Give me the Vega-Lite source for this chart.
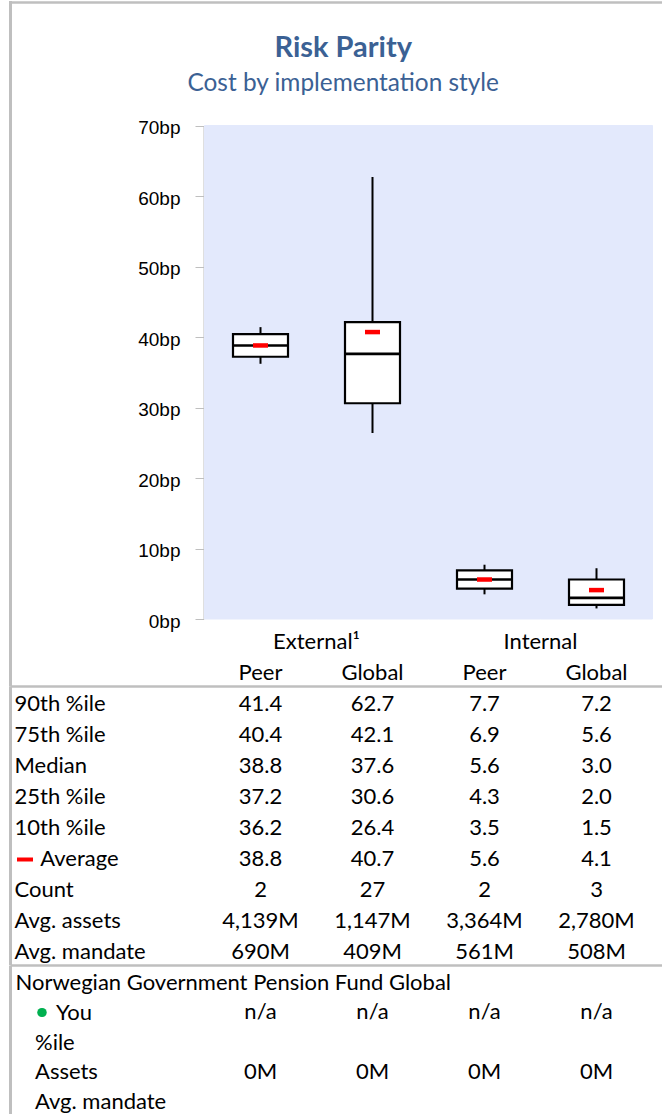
{
  "$schema": "https://vega.github.io/schema/vega-lite/v6.json",
  "background": "white",
  "padding": {"left": 5, "top": 2, "right": 0, "bottom": 0},
  "autosize": {"type": "pad"},
  "bounds": "flush",
  "spacing": 0,
  "resolve": {"scale": {"x": "independent", "y": "independent"}},
  "config": {"view": {"stroke": null}, "font": "Lato", "text": {"font": "Lato"}},
  "datasets": {
    "boxes": [
      {"col": "External Peer", "p10": 36.2, "p25": 37.2, "median": 38.8, "p75": 40.4, "p90": 41.4, "avg": 38.8},
      {"col": "External Global", "p10": 26.4, "p25": 30.6, "median": 37.6, "p75": 42.1, "p90": 62.7, "avg": 40.7},
      {"col": "Internal Peer", "p10": 3.5, "p25": 4.3, "median": 5.6, "p75": 6.9, "p90": 7.7, "avg": 5.6},
      {"col": "Internal Global", "p10": 1.5, "p25": 2.0, "median": 3.0, "p75": 5.6, "p90": 7.2, "avg": 4.1}
    ],
    "groups": [
      {"row": "group", "col": "External Peer", "label": "External¹"},
      {"row": "group", "col": "Internal Peer", "label": "Internal"}
    ],
    "subs": [
      {"row": "sub", "col": "External Peer", "label": "Peer"},
      {"row": "sub", "col": "External Global", "label": "Global"},
      {"row": "sub", "col": "Internal Peer", "label": "Peer"},
      {"row": "sub", "col": "Internal Global", "label": "Global"}
    ],
    "stats": [
      {"row": "90th %ile", "col": "External Peer", "value": "41.4"},
      {"row": "90th %ile", "col": "External Global", "value": "62.7"},
      {"row": "90th %ile", "col": "Internal Peer", "value": "7.7"},
      {"row": "90th %ile", "col": "Internal Global", "value": "7.2"},
      {"row": "75th %ile", "col": "External Peer", "value": "40.4"},
      {"row": "75th %ile", "col": "External Global", "value": "42.1"},
      {"row": "75th %ile", "col": "Internal Peer", "value": "6.9"},
      {"row": "75th %ile", "col": "Internal Global", "value": "5.6"},
      {"row": "Median", "col": "External Peer", "value": "38.8"},
      {"row": "Median", "col": "External Global", "value": "37.6"},
      {"row": "Median", "col": "Internal Peer", "value": "5.6"},
      {"row": "Median", "col": "Internal Global", "value": "3.0"},
      {"row": "25th %ile", "col": "External Peer", "value": "37.2"},
      {"row": "25th %ile", "col": "External Global", "value": "30.6"},
      {"row": "25th %ile", "col": "Internal Peer", "value": "4.3"},
      {"row": "25th %ile", "col": "Internal Global", "value": "2.0"},
      {"row": "10th %ile", "col": "External Peer", "value": "36.2"},
      {"row": "10th %ile", "col": "External Global", "value": "26.4"},
      {"row": "10th %ile", "col": "Internal Peer", "value": "3.5"},
      {"row": "10th %ile", "col": "Internal Global", "value": "1.5"},
      {"row": "Average", "col": "External Peer", "value": "38.8"},
      {"row": "Average", "col": "External Global", "value": "40.7"},
      {"row": "Average", "col": "Internal Peer", "value": "5.6"},
      {"row": "Average", "col": "Internal Global", "value": "4.1"},
      {"row": "Count", "col": "External Peer", "value": "2"},
      {"row": "Count", "col": "External Global", "value": "27"},
      {"row": "Count", "col": "Internal Peer", "value": "2"},
      {"row": "Count", "col": "Internal Global", "value": "3"},
      {"row": "Avg. assets", "col": "External Peer", "value": "4,139M"},
      {"row": "Avg. assets", "col": "External Global", "value": "1,147M"},
      {"row": "Avg. assets", "col": "Internal Peer", "value": "3,364M"},
      {"row": "Avg. assets", "col": "Internal Global", "value": "2,780M"},
      {"row": "Avg. mandate", "col": "External Peer", "value": "690M"},
      {"row": "Avg. mandate", "col": "External Global", "value": "409M"},
      {"row": "Avg. mandate", "col": "Internal Peer", "value": "561M"},
      {"row": "Avg. mandate", "col": "Internal Global", "value": "508M"}
    ],
    "fund": [
      {"row": "You", "col": "External Peer", "value": "n/a"},
      {"row": "You", "col": "External Global", "value": "n/a"},
      {"row": "You", "col": "Internal Peer", "value": "n/a"},
      {"row": "You", "col": "Internal Global", "value": "n/a"},
      {"row": "Assets", "col": "External Peer", "value": "0M"},
      {"row": "Assets", "col": "External Global", "value": "0M"},
      {"row": "Assets", "col": "Internal Peer", "value": "0M"},
      {"row": "Assets", "col": "Internal Global", "value": "0M"}
    ]
  },
  "vconcat": [
    {
      "width": 652.5,
      "height": 617,
      "title": {
        "text": "Risk Parity",
        "subtitle": "Cost by implementation style",
        "anchor": "middle",
        "frame": "group",
        "offset": -93,
        "dx": 7,
        "font": "Lato",
        "fontSize": 29,
        "fontWeight": "bold",
        "color": "#3B6194",
        "subtitleFont": "Lato",
        "subtitleFontSize": 24.4,
        "subtitleColor": "#3B6194",
        "subtitlePadding": 9
      },
      "data": {"name": "boxes"},
      "resolve": {"scale": {"y": "independent"}},
      "layer": [
        {
          "encoding": {
            "x": {
              "field": "col",
              "type": "nominal",
              "sort": null,
              "scale": {"type": "band", "domain": ["External Peer", "External Global", "Internal Peer", "Internal Global"], "paddingInner": 0, "paddingOuter": 0.91295, "align": 0.9511, "round": false},
              "axis": {"orient": "top", "labels": false, "ticks": false, "grid": false, "domainColor": "#BFBFBF", "domainWidth": 2.5, "title": null, "minExtent": 0}
            }
          },
          "layer": [
            {
              "mark": {"type": "bar", "color": "#E3E9FC", "stroke": "#E3E9FC", "strokeWidth": 1, "width": {"band": 1}},
              "encoding": {
                "y": {
                  "datum": 0,
                  "type": "quantitative",
                  "scale": {"domain": [0, 70], "range": [617, 123.5], "nice": false, "zero": true},
                  "axis": {
                    "orient": "left",
                    "offset": -193.5,
                    "values": [0, 10, 20, 30, 40, 50, 60, 70],
                    "labelExpr": "datum.value + 'bp'",
                    "labelFont": "Liberation Sans",
                    "labelFontSize": 19,
                    "labelColor": "#000000",
                    "labelPadding": 15,
                    "labelOffset": 2,
                    "labelFlush": false,
                    "labelBound": false,
                    "labelOverlap": false,
                    "tickColor": "#BFBFBF",
                    "tickSize": 8.5,
                    "domainColor": "#BFBFBF",
                    "domainWidth": 1,
                    "grid": false,
                    "title": null,
                    "minExtent": 0
                  }
                },
                "y2": {"datum": 70}
              }
            },
            {
              "mark": {"type": "rule", "color": "#000000", "strokeWidth": 2},
              "encoding": {"y": {"field": "p10", "type": "quantitative"}, "y2": {"field": "p90"}}
            },
            {
              "mark": {"type": "bar", "fill": "#FFFFFF", "stroke": "#000000", "strokeWidth": 2.2, "width": 55},
              "encoding": {"y": {"field": "p25", "type": "quantitative"}, "y2": {"field": "p75"}}
            },
            {
              "mark": {"type": "tick", "color": "#000000", "opacity": 1, "size": 56, "thickness": 2.6},
              "encoding": {"y": {"field": "median", "type": "quantitative"}}
            },
            {
              "mark": {"type": "tick", "color": "#FF0000", "opacity": 1, "size": 15, "thickness": 4.5},
              "encoding": {"y": {"field": "avg", "type": "quantitative"}}
            }
          ]
        },
        {
          "mark": {"type": "rule", "opacity": 0},
          "encoding": {
            "y": {
              "datum": 0,
              "type": "quantitative",
              "scale": {"domain": [0, 1]},
              "axis": {"orient": "left", "offset": 0, "labels": false, "ticks": false, "grid": false, "domainColor": "#BFBFBF", "domainWidth": 3, "domainCap": "square", "title": null, "minExtent": 0}
            }
          }
        }
      ]
    },
    {
      "width": 652.5,
      "height": 67,
      "encoding": {
        "x": {
          "field": "col",
          "type": "nominal",
          "sort": null,
          "scale": {"type": "band", "domain": ["External Peer", "External Global", "Internal Peer", "Internal Global"], "paddingInner": 0, "paddingOuter": 0.91295, "align": 0.9511, "round": false},
          "axis": null
        },
        "y": {
          "field": "row",
          "type": "nominal",
          "sort": null,
          "scale": {"type": "band", "domain": ["group", "sub"], "paddingInner": 0, "paddingOuter": 0.0806, "align": 1, "round": false},
          "axis": {"orient": "left", "labels": false, "ticks": false, "grid": false, "domainColor": "#BFBFBF", "domainWidth": 3, "title": null, "minExtent": 0}
        },
        "text": {"field": "label"}
      },
      "layer": [
        {
          "data": {"name": "groups"},
          "mark": {"type": "text", "font": "Lato", "fontSize": 22, "color": "#000000", "align": "center", "baseline": "middle", "dy": 2.5},
          "encoding": {"x": {"field": "col", "type": "nominal", "bandPosition": 1}}
        },
        {
          "data": {"name": "subs"},
          "mark": {"type": "text", "font": "Lato", "fontSize": 22, "color": "#000000", "align": "center", "baseline": "middle", "dy": 2.5}
        }
      ]
    },
    {
      "width": 652.5,
      "height": 278.5,
      "data": {"name": "stats"},
      "mark": {"type": "text", "font": "Lato", "fontSize": 22, "color": "#000000", "align": "center", "baseline": "middle", "dy": 2.5},
      "encoding": {
        "x": {
          "field": "col",
          "type": "nominal",
          "sort": null,
          "scale": {"type": "band", "domain": ["External Peer", "External Global", "Internal Peer", "Internal Global"], "paddingInner": 0, "paddingOuter": 0.91295, "align": 0.9511, "round": false},
          "axis": {"orient": "top", "labels": false, "ticks": false, "grid": false, "domainColor": "#BFBFBF", "domainWidth": 2.5, "title": null, "minExtent": 0}
        },
        "y": {
          "field": "row",
          "type": "nominal",
          "sort": null,
          "scale": {"type": "band", "domain": ["90th %ile", "75th %ile", "Median", "25th %ile", "10th %ile", "Average", "Count", "Avg. assets", "Avg. mandate"], "paddingInner": 0, "paddingOuter": 0, "round": false},
          "axis": {
            "orient": "left",
            "grid": false,
            "title": null,
            "minExtent": 0,
            "domainColor": "#BFBFBF",
            "domainWidth": 3,
            "ticks": true,
            "tickSize": -40,
            "tickWidth": 4,
            "tickCap": "butt",
            "tickDash": [16, 1000],
            "tickDashOffset": 1009.5,
            "tickOffset": 2.5,
            "tickColor": {"condition": {"test": "datum.value === 'Average'", "value": "#FF0000"}, "value": "transparent"},
            "labelAlign": "left",
            "labelBaseline": "middle",
            "labelPadding": {"condition": {"test": "datum.value === 'Average'", "value": 10.2}, "value": 36},
            "labelFont": "Lato",
            "labelFontSize": 22,
            "labelColor": "#000000",
            "labelLimit": 1000
          }
        },
        "text": {"field": "value"}
      }
    },
    {
      "width": 652.5,
      "height": 149,
      "data": {"name": "fund"},
      "mark": {"type": "text", "font": "Lato", "fontSize": 22, "color": "#000000", "align": "center", "baseline": "middle", "dy": 2.5},
      "encoding": {
        "x": {
          "field": "col",
          "type": "nominal",
          "sort": null,
          "scale": {"type": "band", "domain": ["External Peer", "External Global", "Internal Peer", "Internal Global"], "paddingInner": 0, "paddingOuter": 0.91295, "align": 0.9511, "round": false},
          "axis": {"orient": "top", "labels": false, "ticks": false, "grid": false, "domainColor": "#BFBFBF", "domainWidth": 2.5, "title": null, "minExtent": 0}
        },
        "y": {
          "field": "row",
          "type": "nominal",
          "sort": null,
          "scale": {"type": "band", "domain": ["Norwegian Government Pension Fund Global", "You", "%ile", "Assets", "Avg. mandate"], "paddingInner": 0, "paddingOuter": 0, "round": false},
          "axis": {
            "orient": "left",
            "grid": false,
            "title": null,
            "minExtent": 0,
            "domainColor": "#BFBFBF",
            "domainWidth": 3,
            "ticks": true,
            "tickSize": -40,
            "tickWidth": 9,
            "tickCap": "round",
            "tickDash": [0.5, 1000],
            "tickDashOffset": 969.25,
            "tickOffset": 2.5,
            "tickColor": {"condition": {"test": "datum.value === 'You'", "value": "#00B050"}, "value": "transparent"},
            "labelAlign": "left",
            "labelBaseline": "middle",
            "labelPadding": {"condition": [{"test": "datum.value === 'You'", "value": -5.5}, {"test": "datum.value === 'Norwegian Government Pension Fund Global'", "value": 35}], "value": 15.5},
            "labelFont": "Lato",
            "labelFontSize": 22,
            "labelColor": "#000000",
            "labelLimit": 1000
          }
        },
        "text": {"field": "value"}
      }
    }
  ]
}
